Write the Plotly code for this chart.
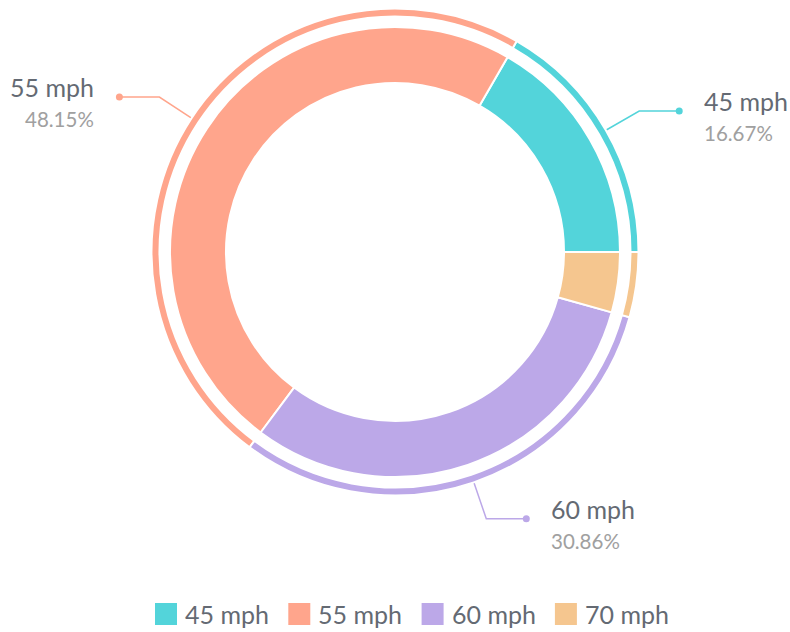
import math
import plotly.graph_objects as go

# ---- data ----
categories = ["45 mph", "55 mph", "60 mph", "70 mph"]
values = [27, 78, 50, 7]
colors = ["#53D4DA", "#FFA58C", "#BCA8E8", "#F5C68F"]

# ---- layout constants (pixels) ----
W, H = 790, 632
CX, CY = 395, 252
R_IN, R_OUT = 169, 225
RING_IN, RING_OUT = 235.5, 243.5
LEAD_R1, LEAD_R2, LEAD_H, TXT_GAP = 244, 282, 40, 23
FONT = "Lato"
NAME_COLOR = "#646A73"
PCT_COLOR = "#A0A0A0"

total = sum(values)
# first slice begins at 3 o'clock and runs counterclockwise
ROT = 90 - 360 * values[0] / total


def dom(r):
    return dict(x=[(CX - r) / W, (CX + r) / W],
                y=[(H - CY - r) / H, (H - CY + r) / H])


fig = go.Figure()

fig.add_trace(go.Pie(
    labels=categories, values=values, sort=False, direction="counterclockwise",
    rotation=ROT, hole=R_IN / R_OUT, domain=dom(R_OUT), textinfo="none",
    marker=dict(colors=colors, line=dict(color="white", width=2)),
    showlegend=False, hoverinfo="label+percent"))

fig.add_trace(go.Pie(
    labels=categories, values=values, sort=False, direction="counterclockwise",
    rotation=ROT, hole=RING_IN / RING_OUT, domain=dom(RING_OUT), textinfo="none",
    marker=dict(colors=colors, line=dict(color="white", width=2)),
    showlegend=False, hoverinfo="skip"))

annotations = []
cum = 0.0
for name, v, c in zip(categories, values, colors):
    pct = v / total * 100
    mid = math.radians((cum + v / 2) / total * 360)
    cum += v
    if pct < 5:
        continue
    x1, y1 = CX + LEAD_R1 * math.cos(mid), CY - LEAD_R1 * math.sin(mid)
    x2, y2 = CX + LEAD_R2 * math.cos(mid), CY - LEAD_R2 * math.sin(mid)
    side = 1 if math.cos(mid) >= 0 else -1
    x3 = x2 + side * LEAD_H
    fig.add_trace(go.Scatter(x=[x1, x2, x3], y=[y1, y2, y2], mode="lines",
                             line=dict(color=c, width=1.5), hoverinfo="skip",
                             showlegend=False))
    fig.add_trace(go.Scatter(x=[x3], y=[y2], mode="markers",
                             marker=dict(color=c, size=7), hoverinfo="skip",
                             showlegend=False))
    anchor = "left" if side > 0 else "right"
    tx = x3 + side * TXT_GAP
    annotations.append(dict(x=tx, y=y2 - 10, xref="x", yref="y", text=name,
                            showarrow=False, xanchor=anchor, yanchor="middle",
                            font=dict(family=FONT, size=25, color=NAME_COLOR)))
    annotations.append(dict(x=tx, y=y2 + 22, xref="x", yref="y",
                            text=f"{pct:.2f}%", showarrow=False,
                            xanchor=anchor, yanchor="middle",
                            font=dict(family=FONT, size=20.5, color=PCT_COLOR)))

# ---- custom legend ----
LEG_Y, LEG_X0, LEG_STEP, SW = 614, 166, 133.3, 22
lx = [LEG_X0 + i * LEG_STEP for i in range(len(categories))]
fig.add_trace(go.Scatter(
    x=lx, y=[LEG_Y] * len(lx), mode="markers",
    marker=dict(symbol="square", size=SW, color=colors, line=dict(width=0)),
    hoverinfo="skip", showlegend=False))
for x, name in zip(lx, categories):
    annotations.append(dict(x=x + SW / 2 + 6, y=LEG_Y, xref="x", yref="y",
                            text=name, showarrow=False, xanchor="left",
                            yanchor="middle",
                            font=dict(family=FONT, size=25, color=NAME_COLOR)))

fig.update_layout(
    width=W, height=H, margin=dict(l=0, r=0, t=0, b=0),
    paper_bgcolor="white", plot_bgcolor="white",
    xaxis=dict(range=[0, W], visible=False, fixedrange=True, domain=[0, 1]),
    yaxis=dict(range=[H, 0], visible=False, fixedrange=True, domain=[0, 1]),
    annotations=annotations, showlegend=False,
)

fig.write_html("out.html", config={"displayModeBar": False},
               post_script="document.body.style.margin='0';"
                           "document.body.style.overflow='hidden';")
